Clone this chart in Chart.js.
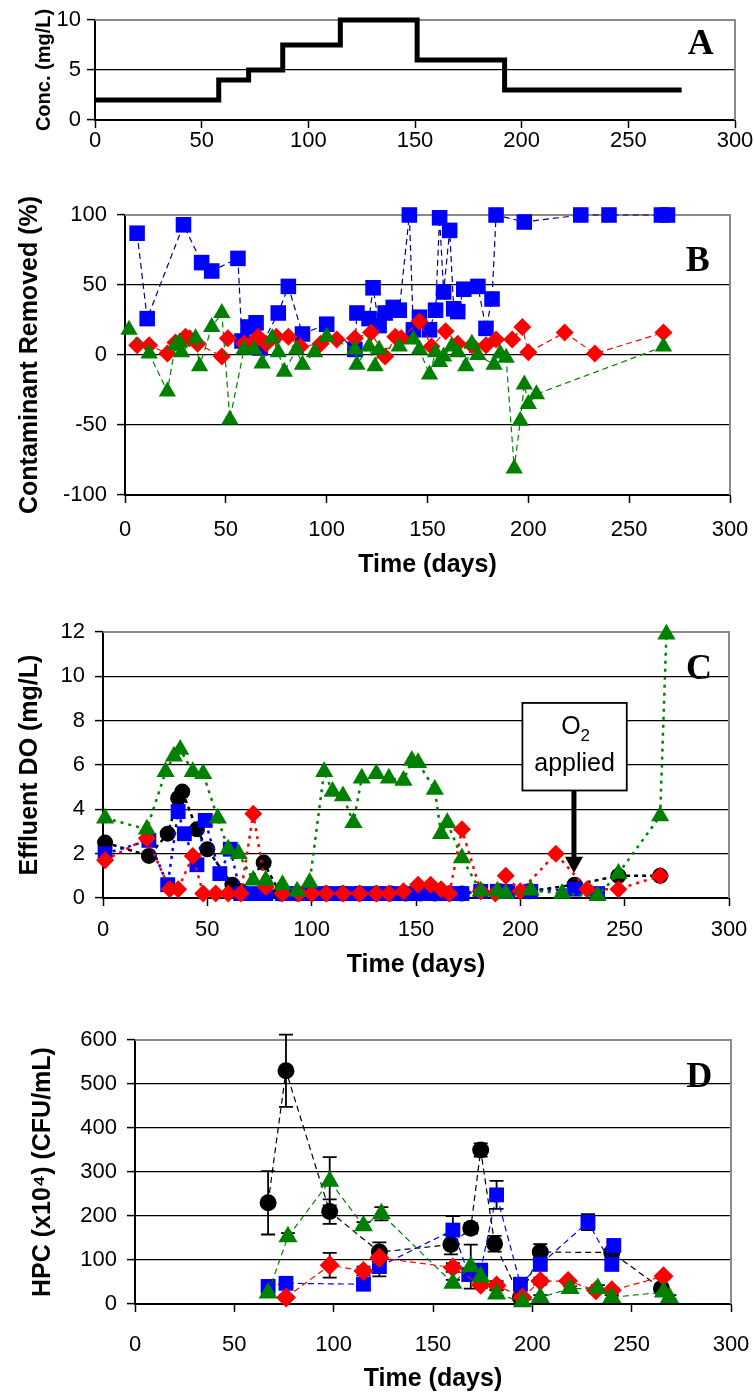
<!DOCTYPE html>
<html>
<head>
<meta charset="utf-8">
<script src="https://cdn.jsdelivr.net/npm/chart.js@4.4.0/dist/chart.umd.min.js"></script>
<style>
  html, body { margin: 0; padding: 0; background: #fff; }
  body { width: 754px; height: 1399px; position: relative; overflow: hidden; }
  canvas { position: absolute; left: 0; }
</style>
</head>
<body>
<canvas id="panelA" width="754" height="160" style="top:0px"></canvas>
<canvas id="panelB" width="754" height="425" style="top:160px"></canvas>
<canvas id="panelC" width="754" height="395" style="top:590px"></canvas>
<canvas id="panelD" width="754" height="409" style="top:990px"></canvas>
<script>
// ---- panel A: influent concentration ----
let aDays = [0, 58, 72, 88, 115, 151, 192, 275];
let aConc = [2, 4, 5, 7.5, 10, 6, 3, 3];

// ---- panel B: contaminant removed (%) ----
let bBlueDays = [6, 11, 29, 38, 43, 56, 58, 61, 65, 67, 76, 81, 88, 100, 114, 115, 121, 123, 126, 129, 133, 136, 141, 143, 146, 151, 154, 156, 158, 161, 163, 165, 168, 175, 179, 182, 184, 198, 226, 240, 266, 269];
let bBlue = [87, 26, 93, 66, 60, 69, 10, 20, 23, 5, 30, 49, 15, 22, 4, 30, 26, 48, 21, 30, 34, 32, 100, 18, 27, 18, 32, 98, 45, 89, 33, 31, 47, 49, 19, 40, 100, 95, 100, 100, 100, 100];

let bRedDays = [6, 12, 21, 25, 30, 32, 36, 48, 51, 59, 64, 66, 70, 75, 81, 87, 97, 105, 114, 122, 129, 134, 137, 146, 152, 159, 165, 172, 179, 184, 192, 197, 200, 218, 233, 267];
let bRed = [7, 7, 1, 9, 13, 12, 8, -1, 12, 8, 10, 13, 8, 13, 13, 6, 8, 11, 12, 16, -1, 13, 12, 24, 6, 17, 8, 7, 7, 11, 11, 20, 2, 16, 1, 16];

let bGreenDays = [2, 12, 21, 25, 27, 28, 35, 37, 43, 48, 52, 59, 64, 68, 73, 76, 79, 85, 88, 94, 100, 114, 115, 121, 124, 126, 136, 143, 146, 151, 154, 156, 158, 162, 165, 169, 172, 175, 183, 186, 189, 193, 196, 198, 200, 204, 267];
let bGreen = [18, 1, -26, 7, 9, 2, 12, -8, 20, 30, -46, 4, 4, -6, 12, 2, -12, 4, -7, 2, 13, 4, -7, 6, -8, 4, 6, 11, 4, -14, 2, -5, -1, 6, 2, -8, 8, 0, -7, 1, -2, -81, -47, -21, -35, -28, 6];

// ---- panel C: effluent DO (mg/L) ----
let cBlackDays = [1, 22, 31, 36, 38, 45, 50, 62, 66, 77, 85, 93, 100, 107, 115, 123, 131, 138, 145, 152, 159, 166, 172, 181, 190, 204, 226, 247, 267];
let cBlack = [2.5, 1.9, 2.9, 4.5, 4.8, 3.1, 2.2, 0.6, 0.3, 1.6, 0.2, 0.2, 0.2, 0.2, 0.2, 0.2, 0.2, 0.2, 0.2, 0.2, 0.2, 0.2, 0.2, 0.3, 0.3, 0.3, 0.6, 1.0, 1.0];

let cBlueDays = [1, 22, 31, 36, 39, 45, 49, 56, 61, 66, 72, 78, 86, 93, 100, 106, 112, 118, 124, 131, 137, 144, 151, 158, 165, 172, 181, 189, 194, 205, 226, 237];
let cBlue = [2.0, 2.6, 0.6, 3.9, 2.9, 1.5, 3.5, 1.1, 2.2, 0.2, 0.2, 0.2, 0.2, 0.2, 0.2, 0.2, 0.2, 0.2, 0.2, 0.2, 0.2, 0.2, 0.2, 0.2, 0.2, 0.2, 0.3, 0.3, 0.3, 0.3, 0.4, 0.2];

let cRedDays = [1, 21, 32, 36, 43, 48, 54, 60, 66, 72, 78, 86, 94, 100, 107, 115, 123, 131, 137, 144, 151, 157, 162, 166, 172, 181, 188, 193, 200, 217, 232, 247, 267];
let cRed = [1.7, 2.7, 0.4, 0.4, 1.9, 0.2, 0.2, 0.2, 0.2, 3.8, 0.5, 0.2, 0.2, 0.2, 0.2, 0.2, 0.2, 0.2, 0.2, 0.3, 0.6, 0.6, 0.4, 0.2, 3.1, 0.3, 0.2, 1.0, 0.3, 2.0, 0.4, 0.4, 1.0];

let cGreenDays = [1, 21, 30, 34, 37, 43, 48, 55, 60, 65, 72, 78, 86, 93, 99, 106, 110, 115, 120, 124, 131, 137, 144, 148, 151, 159, 162, 165, 172, 181, 189, 193, 205, 220, 237, 247, 267, 270];
let cGreen = [3.6, 3.1, 5.7, 6.4, 6.7, 5.7, 5.6, 3.6, 2.2, 2.0, 0.8, 0.8, 0.6, 0.3, 0.7, 5.7, 4.8, 4.6, 3.4, 5.4, 5.6, 5.4, 5.3, 6.2, 6.1, 4.9, 2.9, 3.4, 1.8, 0.3, 0.3, 0.2, 0.35, 0.2, 0.1, 1.1, 3.7, 11.9];

// ---- panel D: HPC (x10^4 CFU/mL) with error bars ----
let dBlackDays = [67, 76, 98, 123, 159, 169, 174, 181, 194, 204, 240, 265];
let dBlack = [230, 530, 210, 118, 135, 172, 350, 137, 15, 118, 117, 35];
let dBlackErr = [72, 82, 28, 22, 22, 12, 15, 18, 8, 18, 8, 10];

let dBlueDays = [67, 76, 115, 123, 160, 168, 174, 182, 194, 204, 228, 240, 241];
let dBlue = [40, 47, 45, 85, 168, 67, 77, 248, 45, 90, 186, 90, 133];
let dBlueErr = [5, 5, 10, 22, 32, 12, 10, 32, 10, 10, 18, 8, 8];

let dRedDays = [76, 98, 115, 123, 160, 174, 182, 195, 204, 218, 232, 240, 266];
let dRed = [15, 88, 75, 105, 83, 44, 42, 15, 52, 52, 31, 31, 63];
let dRedErr = [5, 28, 10, 8, 10, 8, 10, 5, 8, 5, 5, 5, 5];

let dGreenDays = [67, 77, 98, 115, 124, 160, 169, 174, 182, 195, 204, 219, 233, 240, 266, 269];
let dGreen = [25, 153, 279, 178, 205, 47, 85, 62, 23, 5, 15, 35, 35, 15, 27, 15];
let dGreenErr = [5, 8, 55, 8, 15, 8, 50, 10, 8, 5, 5, 5, 8, 5, 5, 5];

const FONT = '"Liberation Sans", Arial, sans-serif';
const BLUE = '#0000ff';
const RED = '#ff0000';
const GREEN = '#008000';
const BLACK = '#000000';

function pts(xs, ys) {
    return xs.map((x, i) => ({ x: x, y: ys[i] }));
}

function series(xs, ys, color, style, radius, dash, width, lineColor) {
    return {
        data: pts(xs, ys),
        showLine: true,
        clip: false,
        borderColor: lineColor || color,
        borderWidth: width,
        borderDash: dash,
        pointStyle: style,
        pointRadius: radius,
        pointHoverRadius: radius,
        pointBackgroundColor: color,
        pointBorderColor: color,
        pointBorderWidth: 0
    };
}

// grey top and right edge of the plot box
const frame = {
    id: 'frame',
    beforeDatasetsDraw(chart) {
        const a = chart.chartArea, ctx = chart.ctx;
        ctx.save();
        ctx.strokeStyle = '#8a8a8a';
        ctx.lineWidth = 2;
        ctx.beginPath();
        ctx.moveTo(a.left, a.top);
        ctx.lineTo(a.right, a.top);
        ctx.lineTo(a.right, a.bottom);
        ctx.stroke();
        ctx.restore();
    }
};

// panel letter (A, B, C, D)
const letter = {
    id: 'letter',
    afterDraw(chart, args, opts) {
        const ctx = chart.ctx;
        const x = chart.scales.x.getPixelForValue(opts.x);
        const y = chart.scales.y.getPixelForValue(opts.y);
        ctx.save();
        ctx.font = 'bold 36px "Liberation Serif", "Times New Roman", serif';
        ctx.fillStyle = '#000';
        ctx.textAlign = 'center';
        ctx.textBaseline = 'middle';
        ctx.fillText(opts.text, x, y);
        ctx.restore();
    }
};

// vertical error bars for panel D
const errorBars = {
    id: 'errorBars',
    beforeDatasetsDraw(chart) {
        const ctx = chart.ctx, xs = chart.scales.x, ys = chart.scales.y;
        ctx.save();
        ctx.strokeStyle = '#000';
        ctx.lineWidth = 1.8;
        chart.data.datasets.forEach(ds => {
            if (!ds.errors) return;
            ds.data.forEach((p, i) => {
                const e = ds.errors[i];
                const px = xs.getPixelForValue(p.x);
                const top = ys.getPixelForValue(p.y + e);
                const bot = ys.getPixelForValue(Math.max(p.y - e, 0));
                ctx.beginPath();
                ctx.moveTo(px, top); ctx.lineTo(px, bot);
                ctx.moveTo(px - 7, top); ctx.lineTo(px + 7, top);
                ctx.moveTo(px - 7, bot); ctx.lineTo(px + 7, bot);
                ctx.stroke();
            });
        });
        ctx.restore();
    }
};

// "O2 applied" call-out in panel C
const o2Note = {
    id: 'o2Note',
    afterDatasetsDraw(chart) {
        const ctx = chart.ctx, xs = chart.scales.x, ys = chart.scales.y;
        const x1 = xs.getPixelForValue(201), x2 = xs.getPixelForValue(251);
        const y1 = ys.getPixelForValue(8.8), y2 = ys.getPixelForValue(4.85);
        const ax = xs.getPixelForValue(225.7);
        const tip = ys.getPixelForValue(1.13), head = ys.getPixelForValue(1.86);
        ctx.save();
        ctx.fillStyle = '#fff';
        ctx.fillRect(x1, y1, x2 - x1, y2 - y1);
        ctx.strokeStyle = '#000';
        ctx.lineWidth = 1.8;
        ctx.strokeRect(x1, y1, x2 - x1, y2 - y1);
        ctx.fillStyle = '#000';
        ctx.textBaseline = 'middle';
        ctx.font = '25px ' + FONT;
        const cx = (x1 + x2) / 2;
        const wO = ctx.measureText('O').width;
        ctx.font = '17px ' + FONT;
        const w2 = ctx.measureText('2').width;
        const ox = cx - (wO + w2) / 2 + 1;
        const oy = ys.getPixelForValue(7.7);
        ctx.font = '25px ' + FONT;
        ctx.textAlign = 'left';
        ctx.fillText('O', ox, oy);
        ctx.font = '17px ' + FONT;
        ctx.fillText('2', ox + wO, oy + 9);
        ctx.font = '25px ' + FONT;
        ctx.textAlign = 'center';
        ctx.fillText('applied', cx, ys.getPixelForValue(6.04));
        // arrow
        ctx.lineWidth = 5;
        ctx.beginPath();
        ctx.moveTo(ax, y2);
        ctx.lineTo(ax, head + 2);
        ctx.stroke();
        ctx.beginPath();
        ctx.moveTo(ax - 9, head);
        ctx.lineTo(ax + 9, head);
        ctx.lineTo(ax, tip);
        ctx.closePath();
        ctx.fill();
        ctx.restore();
    }
};

function scales(p) {
    return {
        x: {
            type: 'linear',
            min: 0,
            max: 300,
            ticks: { stepSize: 50, color: '#000', font: { family: FONT, size: 22 }, padding: p.xPad, maxRotation: 0 },
            grid: { drawOnChartArea: false, drawTicks: true, tickLength: 8, tickColor: '#000', tickWidth: 1.5 },
            border: { color: '#000', width: 2 },
            title: {
                display: !!p.xTitle,
                text: p.xTitle || '',
                color: '#000',
                font: { family: FONT, size: 25, weight: 'bold' },
                padding: { top: 0, bottom: 5 }
            },
            afterFit(s) { s.height = p.xH; s.paddingLeft = 0; s.paddingRight = 0; }
        },
        y: {
            type: 'linear',
            min: p.yMin,
            max: p.yMax,
            ticks: { stepSize: p.yStep, color: '#000', font: { family: FONT, size: 22 }, padding: p.yPad },
            grid: {
                color: c => (c.tick && c.tick.value === p.yMax) ? 'rgba(0,0,0,0)' : '#000',
                lineWidth: 1.2,
                tickLength: 8,
                tickColor: '#000',
                tickWidth: 1.5
            },
            border: { color: '#000', width: 2 },
            title: {
                display: true,
                text: p.yTitle,
                color: '#000',
                font: { family: FONT, size: p.yTitleSize, weight: 'bold' },
                padding: { top: p.yTitleOff, bottom: 0 }
            },
            afterFit(s) { s.width = p.yW; s.paddingTop = 0; s.paddingBottom = 0; }
        }
    };
}

function baseOptions(p, letterOpts) {
    return {
        responsive: false,
        animation: false,
        devicePixelRatio: 1,
        layout: { padding: { top: p.padTop, right: p.padRight, left: 0, bottom: 0 } },
        scales: scales(p),
        plugins: {
            legend: { display: false },
            tooltip: { enabled: false },
            letter: letterOpts
        }
    };
}

// Panel A
const chartA = new Chart(document.getElementById('panelA'), {
    type: 'scatter',
    data: {
        datasets: [{
            data: pts(aDays, aConc),
            showLine: true,
            stepped: 'before',
            clip: false,
            borderColor: BLACK,
            borderWidth: 5,
            pointRadius: 0,
            borderCapStyle: 'butt',
            borderJoinStyle: 'miter'
        }]
    },
    options: baseOptions({
        padTop: 20, padRight: 19, xH: 40, xPad: 0, yW: 95, yPad: 6,
        yMin: 0, yMax: 10, yStep: 5, yTitle: 'Conc. (mg/L)', yTitleSize: 20, yTitleOff: 32
    }, { text: 'A', x: 284, y: 7.5 }),
    plugins: [frame, letter]
});

// Panel B
const chartB = new Chart(document.getElementById('panelB'), {
    type: 'scatter',
    data: {
        datasets: [
            series(bGreenDays, bGreen, GREEN, 'triangle', 10, [6, 4], 1.2),
            series(bRedDays, bRed, RED, 'rectRot', 9, [6, 4], 1.2),
            series(bBlueDays, bBlue, BLUE, 'rect', 11, [6, 4], 1.2, '#000080')
        ]
    },
    options: baseOptions({
        padTop: 55, padRight: 24, xH: 90, xPad: 14, xTitle: 'Time (days)', yW: 125, yPad: 10,
        yMin: -100, yMax: 100, yStep: 50, yTitle: 'Contaminant Removed (%)', yTitleSize: 25, yTitleOff: 15
    }, { text: 'B', x: 284, y: 66.6 }),
    plugins: [frame, letter]
});

// Panel C
const chartC = new Chart(document.getElementById('panelC'), {
    type: 'scatter',
    data: {
        datasets: [
            series(cGreenDays, cGreen, GREEN, 'triangle', 10.5, [3, 5], 2.5),
            series(cRedDays, cRed, RED, 'rectRot', 9, [3, 5], 2.5),
            series(cBlueDays, cBlue, BLUE, 'rect', 10.5, [3, 5], 2.5),
            series(cBlackDays, cBlack, BLACK, 'circle', 8, [4, 4], 2.5)
        ]
    },
    options: baseOptions({
        padTop: 42, padRight: 25, xH: 87, xPad: 11, xTitle: 'Time (days)', yW: 103, yPad: 10,
        yMin: 0, yMax: 12, yStep: 2, yTitle: 'Effluent DO (mg/L)', yTitleSize: 25, yTitleOff: 15
    }, { text: 'C', x: 285.6, y: 10.3 }),
    plugins: [frame, o2Note, letter]
});

// Panel D
const dsG = series(dGreenDays, dGreen, GREEN, 'triangle', 11, [6, 4], 1.2);
dsG.errors = dGreenErr;
const dsR = series(dRedDays, dRed, RED, 'rectRot', 10, [6, 4], 1.2);
dsR.errors = dRedErr;
const dsB = series(dBlueDays, dBlue, BLUE, 'rect', 10.5, [6, 4], 1.2);
dsB.errors = dBlueErr;
const dsK = series(dBlackDays, dBlack, BLACK, 'circle', 8.5, [6, 4], 1.2);
dsK.errors = dBlackErr;

const chartD = new Chart(document.getElementById('panelD'), {
    type: 'scatter',
    data: { datasets: [dsG, dsR, dsB, dsK] },
    options: baseOptions({
        padTop: 50, padRight: 23, xH: 95, xPad: 20, xTitle: 'Time (days)', yW: 135, yPad: 10,
        yMin: 0, yMax: 600, yStep: 100, yTitle: 'HPC (x10\u2074) (CFU/mL)', yTitleSize: 25, yTitleOff: 28
    }, { text: 'D', x: 284, y: 515 }),
    plugins: [frame, errorBars, letter]
});
</script>
</body>
</html>
